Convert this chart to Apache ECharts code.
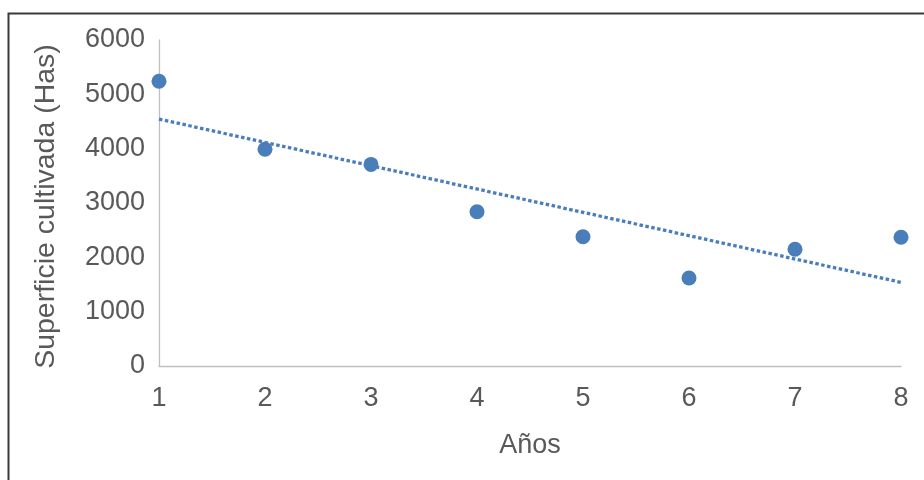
<!DOCTYPE html>
<html>
<head>
<meta charset="utf-8">
<script src="https://cdn.jsdelivr.net/npm/echarts@6/dist/echarts.min.js"></script>
<style>
html,body{margin:0;padding:0;background:#fff;}
#main{width:924px;height:480px;}
</style>
</head>
<body>
<div id="main"></div>
<script>
var years = [1, 2, 3, 4, 5, 6, 7, 8];
var surface = [5240, 3990, 3710, 2840, 2380, 1620, 2150, 2370];
var trendYears = [1, 8];
var trendValues = [4545, 1540];
var xAxisName = 'Años';
var yAxisName = 'Superficie cultivada (Has)';

var pts = years.map(function (x, i) { return [x, surface[i]]; });
var trend = trendYears.map(function (x, i) { return [x, trendValues[i]]; });

var chart = echarts.init(document.getElementById('main'), null, {renderer: 'canvas'});
var font = 'Liberation Sans, Arial, sans-serif';
var txt = '#595959';
chart.setOption({
  animation: false,
  backgroundColor: '#ffffff',
  graphic: [{
    type: 'rect', left: 6, top: 11,
    shape: {width: 940, height: 500},
    style: {fill: 'none', stroke: '#3a3a3a', lineWidth: 2},
    silent: true
  }],
  grid: {left: 159, right: 23, top: 40, bottom: 114},
  xAxis: {
    type: 'value', min: 1, max: 8, interval: 1,
    name: xAxisName, nameLocation: 'middle', nameGap: 66,
    nameTextStyle: {fontSize: 27, color: txt, fontFamily: font},
    axisLine: {show: true, lineStyle: {color: '#bfbfbf', width: 1.3}},
    axisTick: {show: false},
    splitLine: {show: false},
    axisLabel: {fontSize: 27, color: txt, fontFamily: font, margin: 19,
      formatter: function (v) { return String(v); }}
  },
  yAxis: {
    type: 'value', min: 0, max: 6000, interval: 1000,
    name: yAxisName, nameLocation: 'middle', nameGap: 98, nameRotate: 90,
    nameTextStyle: {fontSize: 28.5, color: txt, fontFamily: font, padding: [0, 7, 0, 0]},
    axisLine: {show: true, lineStyle: {color: '#bfbfbf', width: 1.3}},
    axisTick: {show: false},
    splitLine: {show: false},
    axisLabel: {fontSize: 27, color: txt, fontFamily: font, margin: 14,
      formatter: function (v) { return String(v); }}
  },
  series: [{
    type: 'line', data: trend, symbol: 'none', silent: true,
    lineStyle: {color: '#4a7ebb', width: 3.3, type: [3.5, 2.5], cap: 'butt'},
    z: 2
  }, {
    type: 'scatter', data: pts, symbol: 'circle', symbolSize: 15,
    itemStyle: {color: '#4a7ebb', opacity: 1},
    z: 3
  }]
});
</script>
</body>
</html>
